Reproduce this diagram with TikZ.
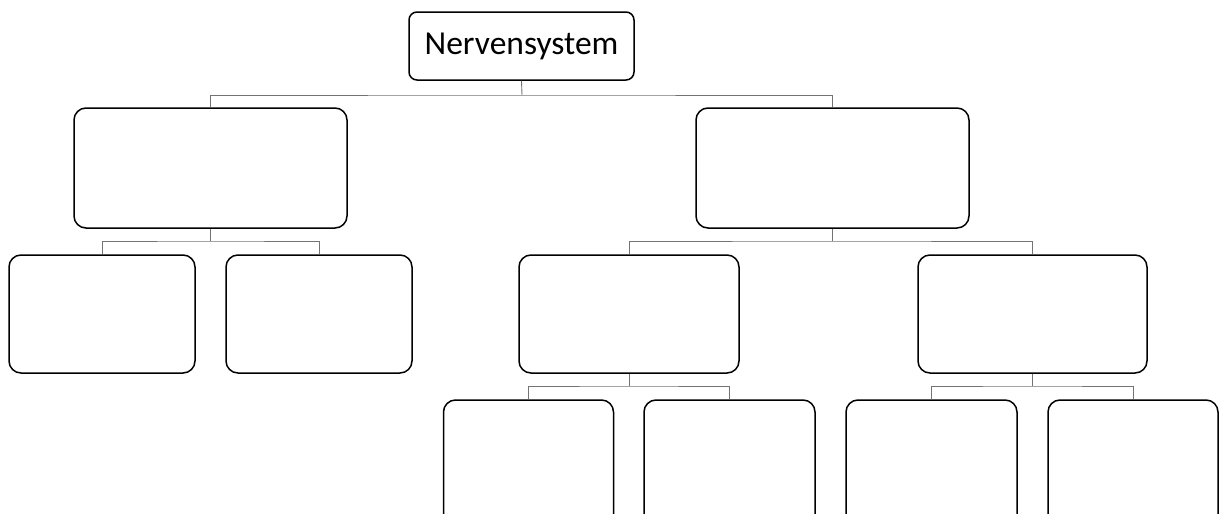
\documentclass[tikz,border=0pt]{standalone}
\usepackage{fontspec}
\setmainfont{Carlito}
\begin{document}
\begin{tikzpicture}[x=1pt,y=-1pt,
  box/.style={draw=black, line width=1.5pt, rounded corners=12pt, inner sep=0pt, fill=white},
  conn/.style={draw=black!55, line width=0.9pt}]
\useasboundingbox (0,0) rectangle (1219,514);
\clip (0,0) rectangle (1219,514);
% top
\node[box, rounded corners=8pt, minimum width=225pt, minimum height=68pt, font=\fontsize{33.5}{40}\selectfont] (top) at (521.5,46) {Nervensystem};
% level 1
\node[box, minimum width=273pt, minimum height=120pt] (L) at (210.5,168) {};
\node[box, minimum width=273pt, minimum height=120pt] (R) at (832.5,168) {};
% level 2 left
\node[box, minimum width=186pt, minimum height=118pt] (LL) at (102,314) {};
\node[box, minimum width=186pt, minimum height=118pt] (LR) at (319,314) {};
% level 2 right
\node[box, minimum width=220pt, minimum height=118pt] (RL) at (629,314) {};
\node[box, minimum width=229pt, minimum height=118pt] (RR) at (1032.5,314) {};
% level 3
\node[box, minimum width=170pt, minimum height=140pt] (A) at (528.5,470) {};
\node[box, minimum width=171pt, minimum height=140pt] (B) at (729.5,470) {};
\node[box, minimum width=171pt, minimum height=140pt] (C) at (931.5,470) {};
\node[box, minimum width=170pt, minimum height=140pt] (D) at (1133,470) {};
% buses
\coordinate (b0) at (522,95);
\coordinate (b1) at (210.5,241);
\coordinate (b2r) at (832.5,241);
\coordinate (b3) at (629,386);
\coordinate (b4) at (1032.5,386);
% connectors
\draw[conn] (top.south) -- (b0);
\draw[conn] (L.north) |- (b0) -| (R.north);
\draw[conn] (L.south) -- (b1);
\draw[conn] (LL.north) |- (b1) -| (LR.north);
\draw[conn] (R.south) -- (b2r);
\draw[conn] (RL.north) |- (b2r) -| (RR.north);
\draw[conn] (RL.south) -- (b3);
\draw[conn] (A.north) |- (b3) -| (B.north);
\draw[conn] (RR.south) -- (b4);
\draw[conn] (C.north) |- (b4) -| (D.north);
\end{tikzpicture}
\end{document}
